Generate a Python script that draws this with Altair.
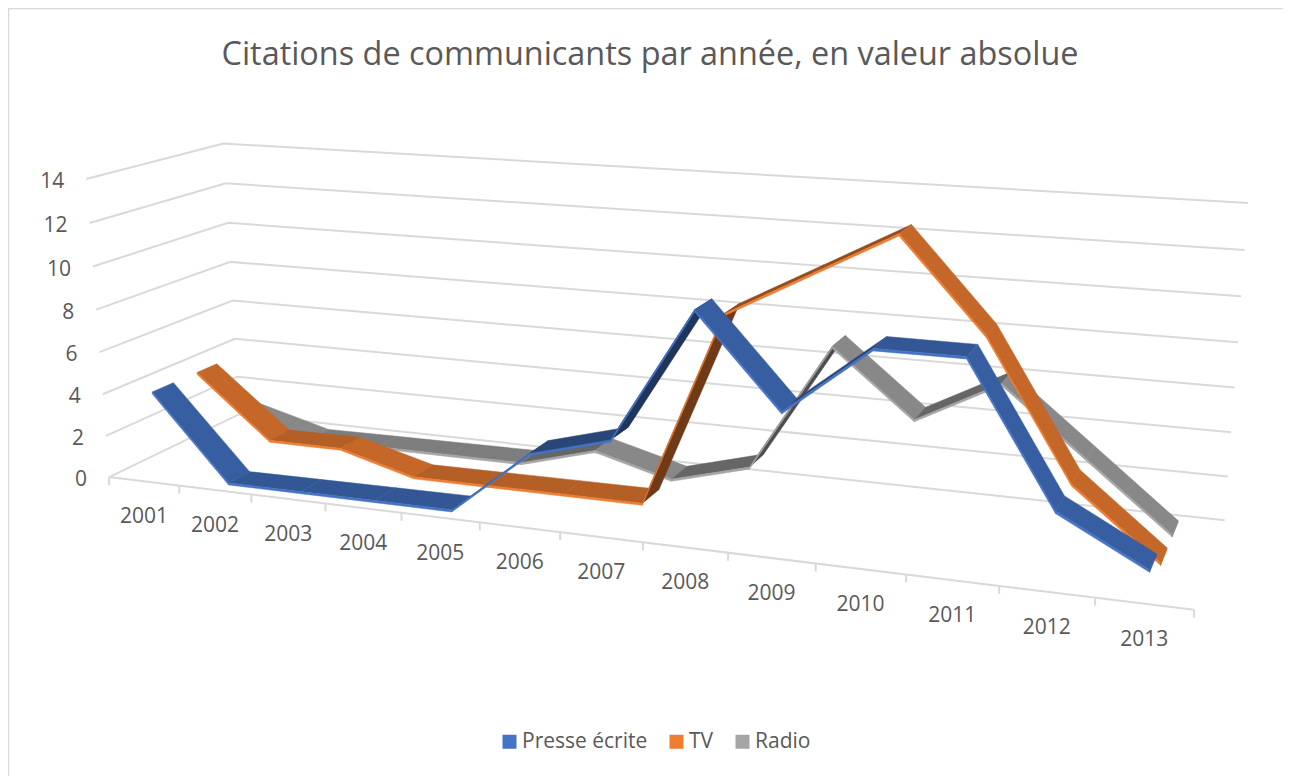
import numpy as np
import pandas as pd
import altair as alt

years = ["2001","2002","2003","2004","2005","2006","2007","2008","2009","2010","2011","2012","2013"]
presse = [4,0,0,0,0,3,4,10,6,9,9,3,1]
tv = [4,1,1,0,0,0,0,9,11,13,9,3,0]
radio = [1,0,0,0,0,1,0,1,7,4,6,3,0]
value_ticks = [0,2,4,6,8,10,12,14]
series_names = ["Presse écrite","TV","Radio"]
series_colors = ["#4472C4","#ED7D31","#A5A5A5"]
title_text = "Citations de communicants par année, en valeur absolue"

# camera calibration of the 3D box: (year slot, depth, value) -> page position
left_front = [(109,477),(105,435),(102,394),(99,352),(96,310),(93,267),(90,223),(86,179)]
left_back = [(239,415),(237,377),(235,339),(233,301),(230,262),(228,223),(226,183),(224,143)]
right_back = [(1225,520),(1228,476),(1231,432),(1234,387),(1238,342),(1241,297),(1245,250),(1248,203)]
tick_x = [110,180,252,325,402,481,560,643,728,815,906,998,1095,1195]
tick_y = [477,486,494,503,512,522,532,543,553,564,575,586,598,610]

A, b = [], []
def add(u, d, v, sx, sy):
    X = [u, d, v, 1]
    A.append(X + [0,0,0,0] + [-sx*c for c in X[:3]]); b.append(sx)
    A.append([0,0,0,0] + X + [-sy*c for c in X[:3]]); b.append(sy)
for i, val in enumerate(value_ticks):
    add(0, 0, val, *left_front[i])
    add(0, 1, val, *left_back[i])
    add(13, 1, val, *right_back[i])
for k in range(14):
    add(k, 0, 0, tick_x[k], tick_y[k])
sol = np.linalg.lstsq(np.array(A, float), np.array(b, float), rcond=None)[0]
M = np.append(sol, 1.0).reshape(3, 4)

def project(u, d, v):
    p = M @ np.array([u, d, v, 1.0])
    return p[0]/p[2], p[1]/p[2]

def shade(hex_color, f):
    r, g, bl = [int(hex_color[i:i+2], 16) for i in (1, 3, 5)]
    return "#%02x%02x%02x" % (int(r*f), int(g*f), int(bl*f))

def band_width(u):
    # apparent ribbon width grows toward the middle of the floor
    return 0.15 + 0.04*np.sin(np.pi*u/16)

front_depth = [0.10, 0.43, 0.76]
thick = 0.10
rows = []
qid = 0
def quad(corners, color, order):
    global qid
    qid += 1
    for n, (u, d, v) in enumerate(corners + corners[:1]):
        x, y = project(u, d, v)
        rows.append(dict(x=x, y=y, q=qid, n=n, c=color, layer=order))

for s in (2, 1, 0):
    vals = [presse, tv, radio][s]
    base = series_colors[s]
    d0 = front_depth[s]
    for i in range(12):
        u0, u1 = i + .5, i + 1.5
        v0, v1 = vals[i], vals[i+1]
        dv = v1 - v0
        f = 0.47 if dv >= 4 else 0.62 if dv > 0 else 0.76 if dv == 0 else 0.83
        e0, e1 = d0 + band_width(u0), d0 + band_width(u1)
        quad([(u0,d0,v0),(u1,d0,v1),(u1,e1,v1),(u0,e0,v0)], shade(base, f), 2 - s)
        quad([(u0,d0,v0),(u1,d0,v1),(u1,d0,v1-thick),(u0,d0,v0-thick)], base, 2 - s)
    u = 12.5
    v = vals[-1]
    e = d0 + band_width(u)
    quad([(u,d0,v),(u,e,v),(u,e,v-thick),(u,d0,v-thick)], shade(base, 0.8), 2 - s)
ribbons = pd.DataFrame(rows)

W, H = 1275, 768
xs = alt.Scale(domain=[8, 8+W], range=[0, W], nice=False, zero=False)
ys = alt.Scale(domain=[8, 8+H], range=[0, H], nice=False, zero=False)
X = lambda f="x": alt.X(f"{f}:Q", scale=xs, axis=None)
Y = lambda f="y": alt.Y(f"{f}:Q", scale=ys, axis=None)

# gridlines, floor axis and ticks
g = []
gid = 0
for val in value_ticks:
    gid += 1
    for n, (u, d) in enumerate([(0,0),(0,1),(13,1)]):
        x, y = project(u, d, val)
        g.append(dict(x=x, y=y, g=gid, n=n))
gid += 1
for n, k in enumerate([0, 13]):
    x, y = project(k, 0, 0)
    g.append(dict(x=x, y=y, g=gid, n=n))
for k in range(14):
    gid += 1
    x, y = project(k, 0, 0)
    g.append(dict(x=x, y=y, g=gid, n=0))
    g.append(dict(x=x, y=y+8, g=gid, n=1))
grid = pd.DataFrame(g)
grid_layer = alt.Chart(grid).mark_line(color="#d9d9d9", strokeWidth=2).encode(
    x=X(), y=Y(), detail="g:N", order="n:Q")

# chart frame
frame = pd.DataFrame([dict(x=8.5,y=776,g=1,n=0),dict(x=8.5,y=8.5,g=1,n=1),dict(x=1283,y=8.5,g=1,n=2)])
frame_layer = alt.Chart(frame).mark_line(color="#d9d9d9", strokeWidth=1.5).encode(
    x=X(), y=Y(), detail="g:N", order="n:Q")

ribbon_layers = []
for order in (0, 1, 2):
    ribbon_layers.append(
        alt.Chart(ribbons[ribbons.layer == order]).mark_line(strokeWidth=0.5, strokeJoin="round").encode(
            x=X(), y=Y(), detail="q:N", order="n:Q",
            fill=alt.Fill("c:N", scale=None),
            stroke=alt.Stroke("c:N", scale=None)))

FONT = "Open Sans"
GREY = "#595959"
yl = []
for i, val in enumerate(value_ticks):
    x, y = project(0, 0, val)
    yl.append(dict(x=x-22, y=y+3, t=str(val)))
ylabels = alt.Chart(pd.DataFrame(yl)).mark_text(align="right", baseline="middle", font=FONT, fontSize=21, color=GREY).encode(
    x=X(), y=Y(), text="t:N")

xl = []
for i, yr in enumerate(years):
    x, y = project(i+.5, 0, 0)
    xl.append(dict(x=x, y=y+36, t=yr))
xlabels = alt.Chart(pd.DataFrame(xl)).mark_text(align="center", baseline="middle", font=FONT, fontSize=21, color=GREY).encode(
    x=X(), y=Y(), text="t:N")

title_df = pd.DataFrame([dict(x=650, y=55, t=title_text)])
title_layer = alt.Chart(title_df).mark_text(align="center", baseline="middle", font=FONT, fontSize=32.4, color=GREY).encode(
    x=X(), y=Y(), text="t:N")

legend_df = pd.DataFrame(dict(s=series_names, x=[650]*3, y=[740]*3))
legend_layer = alt.Chart(legend_df).mark_square(size=0, filled=True).encode(
    x=X(), y=Y(),
    color=alt.Color("s:N", scale=alt.Scale(domain=series_names, range=series_colors),
        legend=alt.Legend(orient="none", legendX=491, legendY=723, direction="horizontal", columns=3, title=None,
            symbolType="square", symbolSize=196, symbolOpacity=1, labelFont=FONT, labelFontSize=21, labelColor=GREY,
            columnPadding=18, labelOffset=2, padding=0)))

chart = alt.layer(frame_layer, grid_layer, *ribbon_layers, ylabels, xlabels, title_layer, legend_layer).properties(
    width=W, height=H, padding=0, background="white"
).configure_view(stroke=None).configure(autosize=alt.AutoSizeParams(type="none"))
chart.save("out.html", embed_options={"renderer": "svg", "actions": False})
